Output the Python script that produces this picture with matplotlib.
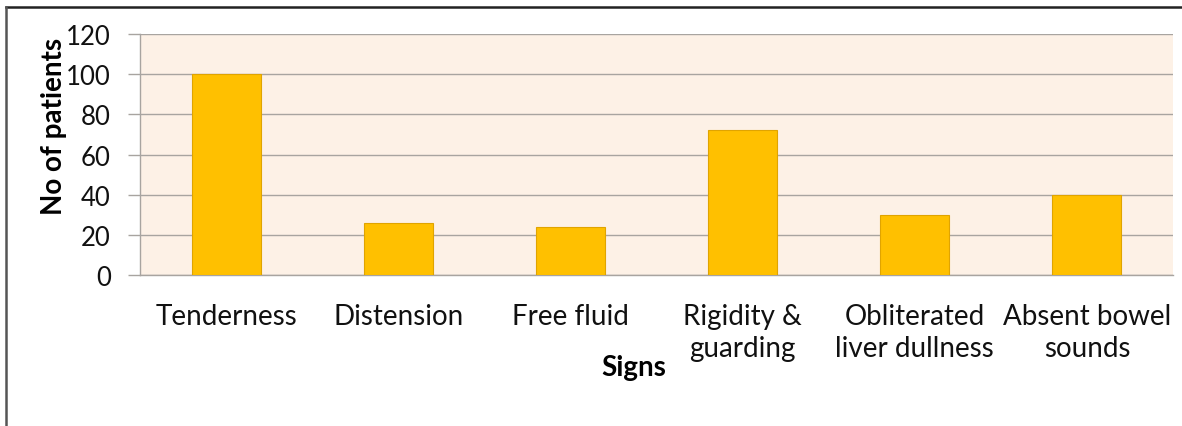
import matplotlib
matplotlib.use("Agg")
import matplotlib.pyplot as plt
from matplotlib.lines import Line2D

categories = ["Tenderness", "Distension", "Free fluid", "Rigidity &\nguarding",
              "Obliterated\nliver dullness", "Absent bowel\nsounds"]
patients = [100, 26, 24, 72, 30, 40]
y_ticks = [0, 20, 40, 60, 80, 100, 120]

plt.rcParams["font.family"] = ["Lato", "DejaVu Sans"]

fig = plt.figure(figsize=(11.82, 4.27), dpi=100)
ax = fig.add_axes([140 / 1182, 1 - 276 / 427, (1173 - 140) / 1182, (276 - 35) / 427])

ax.set_facecolor("#FDF1E6")
x = range(len(categories))
ax.bar(x, patients, width=0.4, color="#FFC000", edgecolor="#E0A400", linewidth=0.8, zorder=3)

ax.set_xlim(-0.5, len(categories) - 0.5)
ax.set_ylim(0, 120)
ax.set_yticks(y_ticks)
ax.set_yticklabels([str(v) for v in y_ticks], fontsize=18.5, color="#111111")
ax.set_xticks(list(x))
ax.set_xticklabels(categories, fontsize=20, color="#111111", linespacing=1.3)

ax.yaxis.grid(True, color="#A8A4A0", linewidth=1.0, zorder=1)
ax.set_axisbelow(True)
ax.tick_params(axis="y", length=9, width=1.0, color="#A8A4A0", pad=12)
ax.tick_params(axis="x", length=0, pad=20)
for side in ("top", "right"):
    ax.spines[side].set_visible(False)
for side in ("left", "bottom"):
    ax.spines[side].set_color("#A8A4A0")
    ax.spines[side].set_linewidth(1.0)

ax.set_ylabel("No of patients", fontsize=20, fontweight="bold")
ax.yaxis.set_label_coords(-73 / 1033, 0.62)
fig.text(634 / 1182, 1 - 368 / 427, "Signs", fontsize=20, fontweight="bold",
         ha="center", va="center")

# frame lines along the top and left edges of the figure
fig.add_artist(Line2D([6 / 1182, 1.0], [1 - 8 / 427, 1 - 8 / 427],
                      transform=fig.transFigure, color="#222222", linewidth=1.8))
fig.add_artist(Line2D([6 / 1182, 6 / 1182], [0.0, 1 - 8 / 427],
                      transform=fig.transFigure, color="#555555", linewidth=1.8))

fig.savefig("out.png", dpi=100, facecolor="white")
